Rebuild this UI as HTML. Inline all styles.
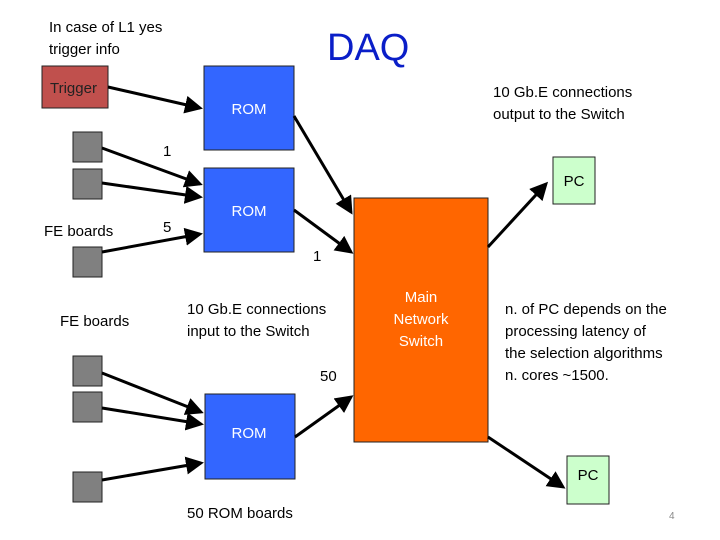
<!DOCTYPE html>
<html><head><meta charset="utf-8"><style>
body{margin:0;background:#fff}
svg{display:block}
text{font-family:"Liberation Sans",sans-serif;font-size:15px;fill:#000}
</style></head><body>
<svg width="720" height="540" viewBox="0 0 720 540">
<defs><marker id="a" markerWidth="6" markerHeight="6" refX="5" refY="3" orient="auto" markerUnits="strokeWidth"><path d="M0,0 L6,3 L0,6 z" fill="#000"/></marker></defs>
<g stroke="#222" stroke-width="1">
<rect x="42" y="66" width="66" height="42" fill="#c0504d"/>
<rect x="204" y="66" width="90" height="84" fill="#3366ff"/>
<rect x="204" y="168" width="90" height="84" fill="#3366ff"/>
<rect x="205" y="394" width="90" height="85" fill="#3366ff"/>
<rect x="354" y="198" width="134" height="244" fill="#ff6600"/>
<rect x="553" y="157" width="42" height="47" fill="#ccffcc"/>
<rect x="567" y="456" width="42" height="48" fill="#ccffcc"/>
<rect x="73" y="132" width="29" height="30" fill="#808080"/>
<rect x="73" y="169" width="29" height="30" fill="#808080"/>
<rect x="73" y="247" width="29" height="30" fill="#808080"/>
<rect x="73" y="356" width="29" height="30" fill="#808080"/>
<rect x="73" y="392" width="29" height="30" fill="#808080"/>
<rect x="73" y="472" width="29" height="30" fill="#808080"/>
</g>
<g stroke="#000" stroke-width="3" marker-end="url(#a)">
<line x1="108" y1="87" x2="200" y2="108"/>
<line x1="102" y1="148" x2="200" y2="184"/>
<line x1="102" y1="183" x2="200" y2="197"/>
<line x1="102" y1="252" x2="200" y2="234"/>
<line x1="294" y1="116" x2="351" y2="212"/>
<line x1="294" y1="210" x2="351" y2="252"/>
<line x1="102" y1="373" x2="201" y2="412"/>
<line x1="102" y1="408" x2="201" y2="424"/>
<line x1="102" y1="480" x2="201" y2="463"/>
<line x1="295" y1="437" x2="351" y2="397"/>
<line x1="488" y1="247" x2="546" y2="184"/>
<line x1="488" y1="437" x2="563" y2="487"/>
</g>
<text x="49" y="32">In case of L1 yes</text>
<text x="49" y="54">trigger info</text>
<text x="327" y="60" style="font-size:38px;fill:#0a1ec8">DAQ</text>
<text x="50" y="93" style="fill:#222">Trigger</text>
<text x="249" y="114" text-anchor="middle" style="fill:#fff">ROM</text>
<text x="249" y="216" text-anchor="middle" style="fill:#fff">ROM</text>
<text x="249" y="438" text-anchor="middle" style="fill:#fff">ROM</text>
<text x="493" y="97">10 Gb.E connections</text>
<text x="493" y="119">output to the Switch</text>
<text x="163" y="156">1</text>
<text x="163" y="232">5</text>
<text x="313" y="261">1</text>
<text x="574" y="186" text-anchor="middle">PC</text>
<text x="588" y="480" text-anchor="middle">PC</text>
<text x="44" y="236">FE boards</text>
<text x="60" y="326">FE boards</text>
<text x="187" y="314">10 Gb.E connections</text>
<text x="187" y="336">input to the Switch</text>
<text x="320" y="381">50</text>
<text x="421" y="302" text-anchor="middle" style="fill:#fff">Main</text>
<text x="421" y="324" text-anchor="middle" style="fill:#fff">Network</text>
<text x="421" y="346" text-anchor="middle" style="fill:#fff">Switch</text>
<text x="505" y="314">n. of PC depends on the</text>
<text x="505" y="336">processing latency  of</text>
<text x="505" y="358">the selection algorithms</text>
<text x="505" y="380">n. cores ~1500.</text>
<text x="187" y="518">50 ROM boards</text>
<text x="669" y="519" style="font-size:10px;fill:#888">4</text>
</svg>
</body></html>
